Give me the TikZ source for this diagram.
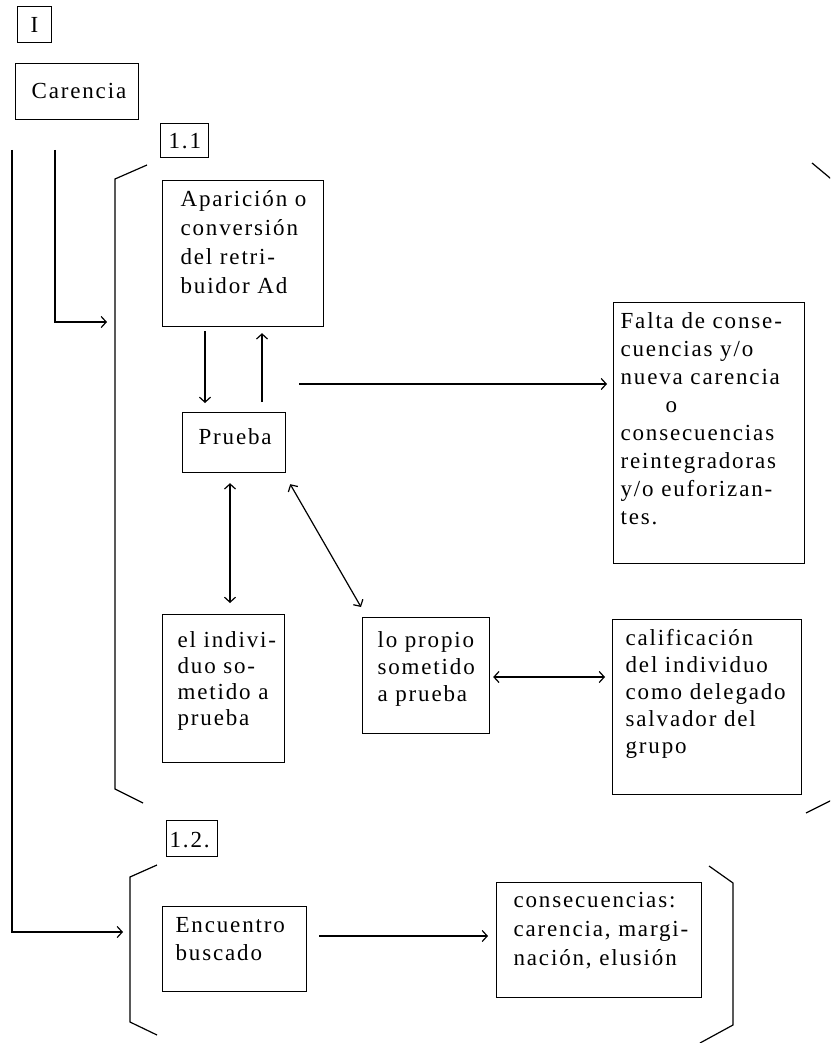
\documentclass[tikz,border=0pt]{standalone}
\usepackage{fontspec}
\setmainfont{Liberation Serif}[LetterSpace=8]
\usetikzlibrary{arrows.meta,calc}

% framed text block: width, height, left pad, top pad, lines
\newcommand{\boxtext}[5]{%
  \parbox[c][#2][t]{#1}{\vspace*{#4}\hspace*{#3}\begin{tabular}[t]{@{}l@{}}#5\end{tabular}}}

\begin{document}
\begin{tikzpicture}[x=1pt, y=-1pt, line width=1.2pt,
  box/.style={draw, inner sep=0pt, anchor=north west, font={\fontsize{23}{27}\selectfont}},
  tip/.tip={Straight Barb[length=5pt,width=11pt]},
  arr/.style={-{tip}},
  darr/.style={{tip}-{tip}},
  bracket/.style={line join=miter}]
\clip (0,0) rectangle (830,1043);

% headings and first-level box
\node[box] (sec) at (17,6) {\boxtext{34pt}{36pt}{13pt}{7pt}{I}};
\node[box] (car) at (15,63) {\boxtext{123pt}{56pt}{16pt}{16pt}{Carencia}};
\node[box] (lab11) at (160,123) {\boxtext{48pt}{34pt}{8pt}{6pt}{1.1}};
\node[box] (lab12) at (166,820) {\boxtext{51pt}{36pt}{3pt}{8pt}{1.2.}};

% section 1.1
\node[box, font={\fontsize{23}{29}\selectfont}] (apar) at (162,180)
  {\boxtext{161pt}{146pt}{18pt}{6pt}{Aparición o\\conversión\\del retri-\\buidor Ad}};
\node[box] (prueba) at (182,412) {\boxtext{103pt}{60pt}{16pt}{13pt}{Prueba}};
\node[box, font={\fontsize{23}{28}\selectfont}] (falta) at (613,302)
  {\boxtext{191pt}{261pt}{7pt}{6pt}{Falta de conse-\\cuencias y/o\\nueva carencia\\\hspace*{45pt}o\\consecuencias\\reintegradoras\\y/o euforizan-\\tes.}};
\node[box, font={\fontsize{23}{26}\selectfont}] (indiv) at (162,614)
  {\boxtext{122pt}{148pt}{15pt}{15pt}{el indivi-\\duo so-\\metido a\\prueba}};
\node[box] (propio) at (362,617)
  {\boxtext{127pt}{116pt}{15pt}{11pt}{lo propio\\sometido\\a prueba}};
\node[box] (calif) at (612,619)
  {\boxtext{189pt}{175pt}{13pt}{7pt}{calificación\\del individuo\\como delegado\\salvador del\\grupo}};

% section 1.2
\node[box, font={\fontsize{23}{28}\selectfont}] (encu) at (162,906)
  {\boxtext{144pt}{85pt}{13pt}{6pt}{Encuentro\\buscado}};
\node[box, font={\fontsize{23}{29}\selectfont}] (consec) at (496,882)
  {\boxtext{205pt}{115pt}{17pt}{5pt}{consecuencias:\\carencia, margi-\\nación, elusión}};

% brackets enclosing the two sections
\draw[bracket] (147,165) -- (115,179) -- (115,789) -- (143,803);
\draw[bracket] (812,163) -- (848,193) -- (848,792) -- (806,813);
\draw[bracket] (157,865) -- (130,877) -- (130,1022) -- (157,1035);
\draw[bracket] (709,866) -- (733,883) -- (733,1025) -- (700,1043);

% lines leaving Carencia
\coordinate (startA) at (12,150);
\coordinate (startB) at (55,150);
\coordinate (in11) at (107,322);
\coordinate (in12) at (123,932);
\draw[arr] (startA) |- (in12);
\draw[arr] (startB) |- (in11);

% connectors inside section 1.1
\coordinate (dn) at ($(apar.south west)+(43,0)$);
\draw[arr, shorten <=4pt, shorten >=9pt] (dn) -- (dn |- prueba.north);
\coordinate (up) at ($(apar.south west)+(100,0)$);
\draw[arr, shorten <=10pt, shorten >=6pt] (up |- prueba.north) -- (up);
\coordinate (loop) at (299,384);
\draw[arr, shorten >=6pt] (loop) -- (loop -| falta.west);
\coordinate (pv) at ($(prueba.south west)+(48,0)$);
\draw[darr, shorten <=10pt, shorten >=11pt] (pv) -- (pv |- indiv.north);
\draw[darr] ($(prueba.south east)+(4,11)$) -- ($(propio.north west)+(-1,-10)$);
\coordinate (pc) at ($(propio.north east)+(0,60)$);
\draw[darr, shorten <=3pt, shorten >=7pt] (pc) -- (pc -| calif.west);

% connector inside section 1.2
\coordinate (ec) at ($(encu.north east)+(0,30)$);
\draw[arr, shorten <=12pt, shorten >=8pt] (ec) -- (ec -| consec.west);
\end{tikzpicture}
\end{document}
